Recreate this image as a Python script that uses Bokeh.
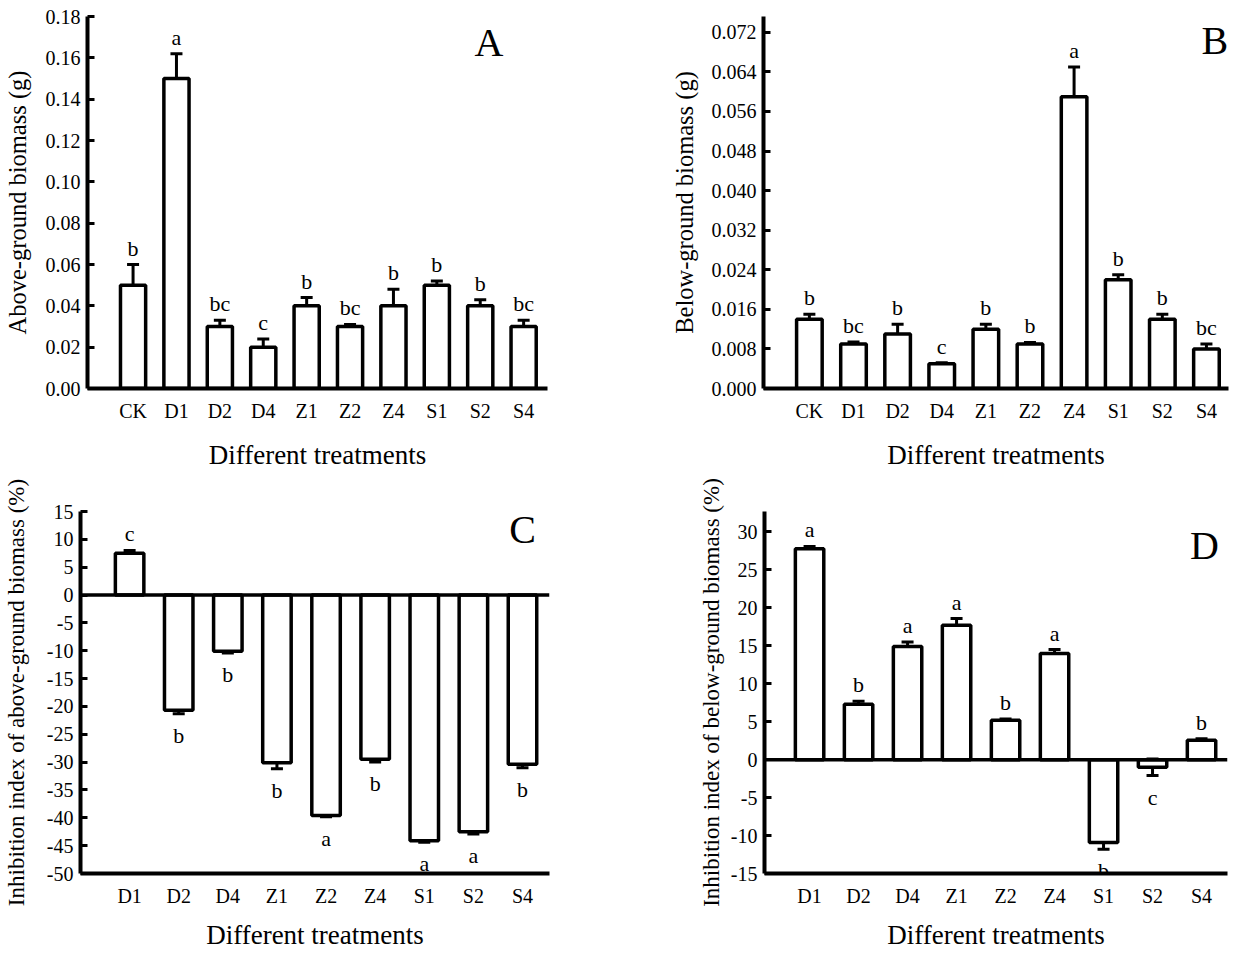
from bokeh.plotting import figure
from bokeh.models import (ColumnDataSource, Whisker, TeeHead, Span, Label,
                          FixedTicker, PrintfTickFormatter, Range1d)
from bokeh.layouts import row, column
from bokeh.embed import file_html
from bokeh.resources import INLINE
from bokeh.core.properties import value

FONT = "Liberation Serif"

# ---------------- data ----------------
cats_ab = ["CK", "D1", "D2", "D4", "Z1", "Z2", "Z4", "S1", "S2", "S4"]
above_mean = [0.050, 0.150, 0.030, 0.020, 0.040, 0.030, 0.040, 0.050, 0.040, 0.030]
above_err = [0.010, 0.012, 0.003, 0.004, 0.004, 0.001, 0.008, 0.002, 0.003, 0.003]
above_sig = ["b", "a", "bc", "c", "b", "bc", "b", "b", "b", "bc"]

below_mean = [0.014, 0.009, 0.011, 0.005, 0.012, 0.009, 0.059, 0.022, 0.014, 0.008]
below_err = [0.001, 0.0004, 0.002, 0.0002, 0.001, 0.0003, 0.006, 0.001, 0.001, 0.001]
below_sig = ["b", "bc", "b", "c", "b", "b", "a", "b", "b", "bc"]

cats_cd = ["D1", "D2", "D4", "Z1", "Z2", "Z4", "S1", "S2", "S4"]
inhib_above = [7.5, -20.7, -10.1, -30.1, -39.6, -29.5, -44.1, -42.5, -30.4]
inhib_above_err = [0.5, 0.6, 0.3, 1.1, 0.2, 0.5, 0.3, 0.4, 0.6]
inhib_above_sig = ["c", "b", "b", "b", "a", "b", "a", "a", "b"]

inhib_below = [27.8, 7.3, 14.9, 17.7, 5.2, 14.0, -10.9, -1.0, 2.55]
inhib_below_err = [0.3, 0.4, 0.6, 0.9, 0.15, 0.5, 0.9, 1.1, 0.2]
inhib_below_sig = ["a", "b", "a", "a", "b", "a", "b", "c", "b"]

ticks_a = [0.00, 0.02, 0.04, 0.06, 0.08, 0.10, 0.12, 0.14, 0.16, 0.18]
ticks_b = [0.000, 0.008, 0.016, 0.024, 0.032, 0.040, 0.048, 0.056, 0.064, 0.072]
ticks_c = [15, 10, 5, 0, -5, -10, -15, -20, -25, -30, -35, -40, -45, -50]
ticks_d = [30, 25, 20, 15, 10, 5, 0, -5, -10, -15]


def panel(cats, vals, errs, sigs, ylabel, yticks, yfmt, yr, xr, letter, lpos,
          width, height, borders, ylab_standoff, xlab_standoff, zero_line,
          ylab_size="24.5px"):
    left, right, top, bottom = borders
    p = figure(width=width, height=height, output_backend="svg",
               toolbar_location=None, x_range=Range1d(*xr), y_range=Range1d(*yr),
               min_border_left=left, min_border_right=right,
               min_border_top=top, min_border_bottom=bottom)
    p.outline_line_color = None
    p.xgrid.visible = False
    p.ygrid.visible = False
    p.background_fill_color = "white"

    xs = list(range(len(cats)))
    src = ColumnDataSource(dict(x=xs, top=vals, upper=[v + e for v, e in zip(vals, errs)],
                                lower=[v - e for v, e in zip(vals, errs)]))
    p.vbar(x="x", top="top", bottom=0, width=0.58, source=src,
           fill_color="white", line_color="black", line_width=3.5)
    if zero_line:
        p.add_layout(Span(location=0, dimension="width", line_color="black", line_width=3.5))
    w = Whisker(base="x", upper="upper", lower="lower", source=src,
                line_color="black", line_width=3,
                upper_head=TeeHead(size=12, line_width=3, line_color="black"),
                lower_head=TeeHead(size=12, line_width=3, line_color="black"))
    p.add_layout(w)

    up = dict(x=[], y=[], t=[])
    dn = dict(x=[], y=[], t=[])
    for i, (v, e, s) in enumerate(zip(vals, errs, sigs)):
        if v >= 0:
            up["x"].append(i); up["y"].append(v + e); up["t"].append(s)
        else:
            dn["x"].append(i); dn["y"].append(v - e); dn["t"].append(s)
    p.text(x="x", y="y", text="t", source=ColumnDataSource(up), text_align="center",
           text_baseline="bottom", y_offset=-4, text_font=value(FONT),
           text_font_size="22px", text_color="black")
    p.text(x="x", y="y", text="t", source=ColumnDataSource(dn), text_align="center",
           text_baseline="top", y_offset=9, text_font=value(FONT),
           text_font_size="22px", text_color="black")

    p.add_layout(Label(x=lpos[0], y=lpos[1], text=letter, text_align="center",
                       text_baseline="middle", text_font=FONT, text_font_size="40px",
                       text_color="black"))

    # axes
    ya = p.yaxis[0]
    ya.ticker = FixedTicker(ticks=yticks)
    ya.formatter = PrintfTickFormatter(format=yfmt)
    ya.axis_line_width = 4
    ya.major_tick_in = 7
    ya.major_tick_out = 0
    ya.major_tick_line_width = 3
    ya.minor_tick_line_color = None
    ya.major_label_standoff = 7
    ya.major_label_text_font = FONT
    ya.major_label_text_font_size = "20px"
    ya.major_label_text_color = "black"
    ya.axis_label = ylabel
    ya.axis_label_text_font = FONT
    ya.axis_label_text_font_size = ylab_size
    ya.axis_label_text_font_style = "normal"
    ya.axis_label_text_color = "black"
    ya.axis_label_standoff = ylab_standoff

    xa = p.xaxis[0]
    xa.ticker = FixedTicker(ticks=xs)
    xa.major_label_overrides = {i: c for i, c in enumerate(cats)}
    xa.axis_line_width = 4
    xa.major_tick_line_color = None
    xa.minor_tick_line_color = None
    xa.major_label_standoff = 5
    xa.major_label_text_font = FONT
    xa.major_label_text_font_size = "20px"
    xa.major_label_text_color = "black"
    xa.axis_label = "Different treatments"
    xa.axis_label_text_font = FONT
    xa.axis_label_text_font_size = "27px"
    xa.axis_label_text_font_style = "normal"
    xa.axis_label_text_color = "black"
    xa.axis_label_standoff = xlab_standoff
    return p


pA = panel(cats_ab, above_mean, above_err, above_sig, "Above-ground biomass (g)",
           ticks_a, "%.2f", (0, 0.18), (-1.05, 9.55), "A", (8.2, 0.1675),
           615, 472, (82, 68, 16, 82), 12, 15, False)
pB = panel(cats_ab, below_mean, below_err, below_sig, "Below-ground biomass (g)",
           ticks_b, "%.3f", (0, 0.0752), (-1.04, 9.5), "B", (9.19, 0.0704),
           616, 472, (148, 3, 15, 83), 11, 15, False)
pC = panel(cats_cd, inhib_above, inhib_above_err, inhib_above_sig,
           "Inhibition index of above-ground biomass (%)",
           ticks_c, "%d", (-50, 15), (-1.0, 8.55), "C", (8.0, 11.8),
           615, 480, (80, 66, 39, 72), 15, 10, True, "23px")
pD = panel(cats_cd, inhib_below, inhib_below_err, inhib_below_sig,
           "Inhibition index of below-ground biomass (%)",
           ticks_d, "%d", (-15, 32.7), (-0.92, 8.53), "D", (8.06, 28.2),
           616, 480, (149, 4, 37, 70), 4, 10, True, "23px")

layout = column(row(pA, pB), row(pC, pD))
open("out.html", "w").write(file_html(layout, INLINE))
